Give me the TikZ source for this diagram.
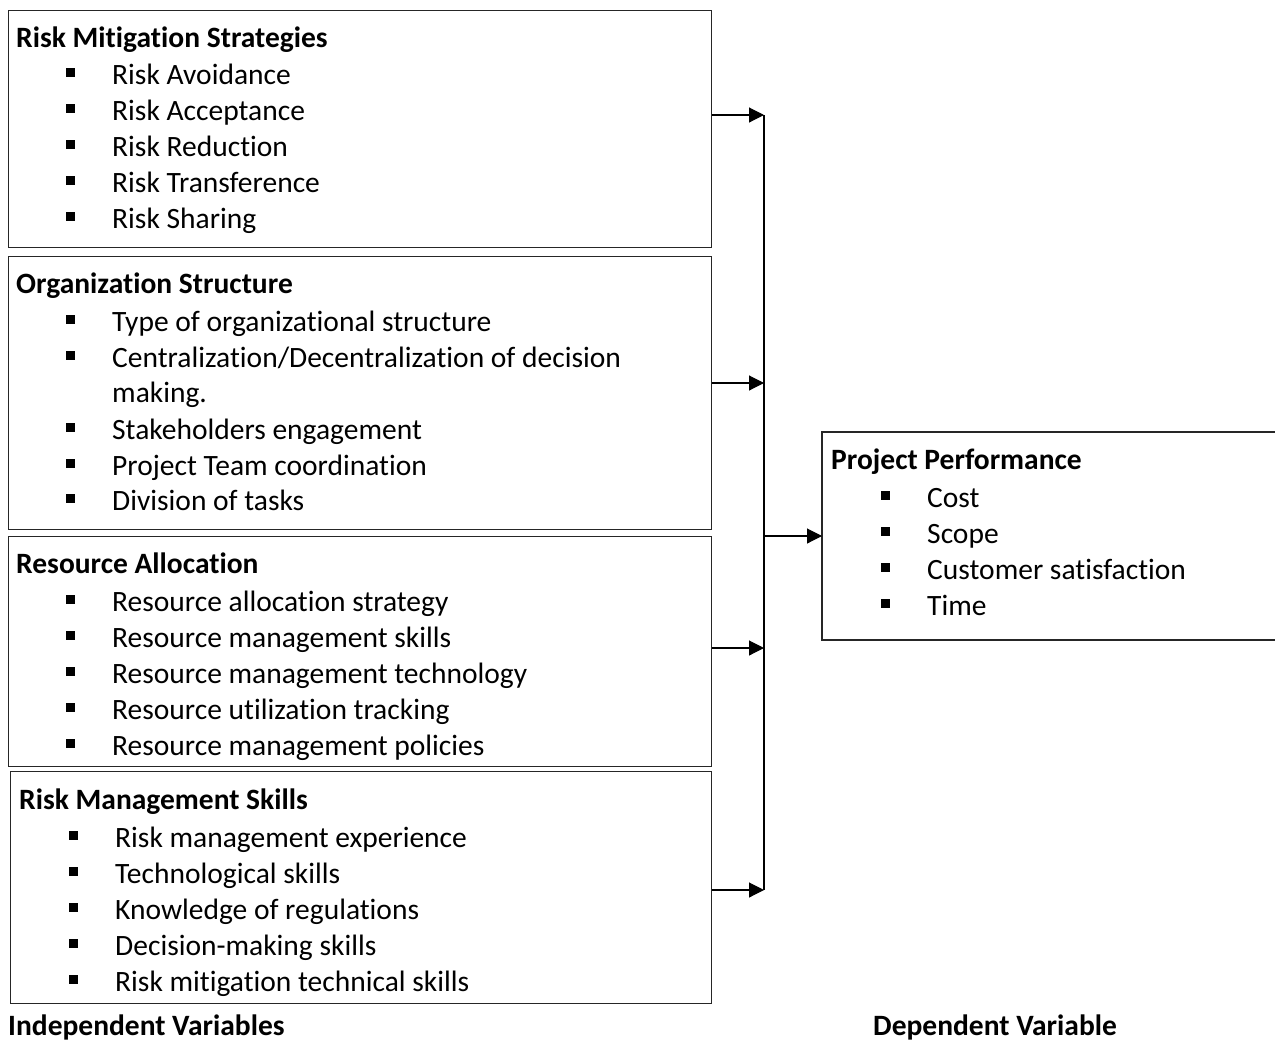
\documentclass[tikz,border=0pt]{standalone}
\usepackage{fontspec}
\setmainfont{Carlito}[RawFeature=-liga]
\usetikzlibrary{arrows.meta}
\begin{document}
\begin{tikzpicture}[x=1pt,y=-1pt,
  box/.style={draw=black!85,line width=1.1pt,anchor=north west,inner sep=0pt},
  ttl/.style={anchor=base west,inner sep=0pt,font=\fontsize{29.5}{34}\selectfont\bfseries},
  itm/.style={anchor=base west,inner sep=0pt,font=\fontsize{29.5}{34}\selectfont},
  bul/.style={fill=black,minimum size=9pt,inner sep=0pt},
  conn/.style={line width=1.1pt,draw=black},
  arr/.style={conn,-{Triangle[length=15pt,width=15pt]}}]
\useasboundingbox (0,0) rectangle (1275,1042);
% boxes
\node[box,minimum width=703pt,minimum height=237pt] (b1) at (8,10) {};
\node[box,minimum width=703pt,minimum height=273pt] (b2) at (8,256) {};
\node[box,minimum width=703pt,minimum height=230pt] (b3) at (8,536) {};
\node[box,minimum width=701pt,minimum height=232pt] (b4) at (10,771) {};
% project performance box (right side cut by page edge)
\coordinate (pptr) at (1276,432);
\coordinate (ppbr) at (1276,640);
\coordinate (pptl) at (822,432);
\coordinate (ppbl) at (822,640);
\draw[draw=black!85,line width=1.1pt] (pptr) -- (pptl) -- (ppbl) -- (ppbr);
\coordinate (ppw) at (822,536);
% box 1
\node[ttl] (t1) at (16,47) {Risk Mitigation Strategies};
\foreach \y/\t in {74/{Risk Avoidance},110/{Risk Acceptance},146/{Risk Reduction},182/{Risk Transference},218/{Risk Sharing}}{
  \node[bul] at (70,\y-2) {};
  \node[itm] at (112,\y+10) {\t};}
% box 2
\node[ttl] (t2) at (16,293) {Organization Structure};
\foreach \y/\t in {321/{Type of organizational structure},357/{Centralization/Decentralization of decision},429/{Stakeholders engagement},465/{Project Team coordination},500/{Division of tasks}}{
  \node[bul] at (70,\y-2) {};
  \node[itm] at (112,\y+10) {\t};}
\node[itm] at (112,402) {making.};
% box 3
\node[ttl] (t3) at (16,573) {Resource Allocation};
\foreach \y/\t in {601/{Resource allocation strategy},637/{Resource management skills},673/{Resource management technology},709/{Resource utilization tracking},745/{Resource management policies}}{
  \node[bul] at (70,\y-2) {};
  \node[itm] at (112,\y+10) {\t};}
% box 4
\node[ttl] (t4) at (19,809) {Risk Management Skills};
\foreach \y/\t in {837/{Risk management experience},873/{Technological skills},909/{Knowledge of regulations},945/{Decision-making skills},981/{Risk mitigation technical skills}}{
  \node[bul] at (73,\y-2) {};
  \node[itm] at (115,\y+10) {\t};}
% right box
\node[ttl] (t5) at (831,469) {Project Performance};
\foreach \y/\t in {497/{Cost},533/{Scope},569/{Customer satisfaction},605/{Time}}{
  \node[bul] at (885,\y-2) {};
  \node[itm] at (927,\y+10) {\t};}
% footer labels
\node[ttl] (iv) at (8,1035) {Independent Variables};
\node[ttl] (dv) at (873,1035) {Dependent Variable};
% connectors
\coordinate (v1) at (764,115);
\coordinate (v2) at (764,383);
\coordinate (vm) at (764,536);
\coordinate (v3) at (764,648);
\coordinate (v4) at (764,890);
\draw[conn] (v1) -- (v4);
\draw[arr] (b1.east |- v1) -- (v1);
\draw[arr] (b2.east |- v2) -- (v2);
\draw[arr] (b3.east |- v3) -- (v3);
\draw[arr] (b4.east |- v4) -- (v4);
\draw[arr] (vm) -- (ppw);
\end{tikzpicture}
\end{document}
